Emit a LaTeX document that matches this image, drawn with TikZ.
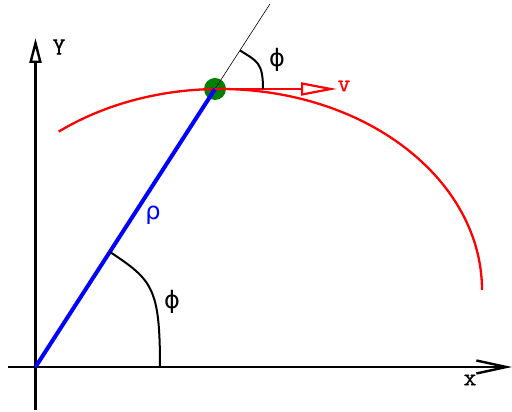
\documentclass[tikz,border=0pt]{standalone}
\usepackage{fontspec}
\newfontfamily\lblfont{DejaVu Sans}
\newfontfamily\axfont{Latin Modern Mono}[FakeBold=0.8]
\usetikzlibrary{arrows.meta}
\begin{document}
\begin{tikzpicture}[x=1pt,y=1pt,
  axisline/.style={line width=2.4pt, black},
  anglearc/.style={line width=2pt, black},
  greek/.style={font=\lblfont\fontsize{24}{24}\selectfont, inner sep=0pt},
  axlabel/.style={font=\axfont\fontsize{25}{25}\selectfont, inner sep=0pt}]
\useasboundingbox (0,0) rectangle (512,412);
% points
\coordinate (O) at (35.5,45);
\coordinate (Pc) at (215,323);
\coordinate (xs) at (8,45);
\coordinate (xe) at (512,45);
\coordinate (ys) at (35.5,2);
\coordinate (ye) at (35.5,374);
\coordinate (ext) at (269.8,407.8);
\coordinate (vtip) at (337,323);
% particle
\node[circle, fill={rgb,255:red,0;green,128;blue,0}, minimum size=22pt, inner sep=0pt] (P) at (Pc) {};
% axes
\draw[axisline, -{Straight Barb[length=30pt,width=13pt]}] (xs) -- (xe);
\draw[axisline, -{Triangle[open,length=25pt,width=12pt]}] (ys) -- (ye);
% trajectory
\draw[red, line width=2.3pt] (220,122) ++(128:262 and 201)
  arc[start angle=128, end angle=0, x radius=262, y radius=201];
% radial extension
\draw[black, line width=0.6pt] (P.center) -- (ext);
% position vector
\draw[blue, line width=4pt] (O) -- (P.center);
% velocity
\draw[red, line width=2.2pt, -{Triangle[open,length=36pt,width=13pt]}] (P.center) -- (vtip);
% angle arcs
\draw[anglearc] (160,45) .. controls (160,125) and (152,132) .. (109.9,160.1);
\draw[anglearc] (263,323) .. controls (263,350) and (256.8,350.7) .. (240,361.6);
% labels
\node[greek, text=blue] (rho) at (153,197) {ρ};
\node[greek] (phi1) at (172,110) {ϕ};
\node[greek] (phi2) at (277,352) {ϕ};
\node[axlabel, text=red] (v) at (344,326) {v};
\node[axlabel] (xl) at (470,32) {x};
\node[axlabel] (yl) at (59,365) {Y};
\end{tikzpicture}
\end{document}
